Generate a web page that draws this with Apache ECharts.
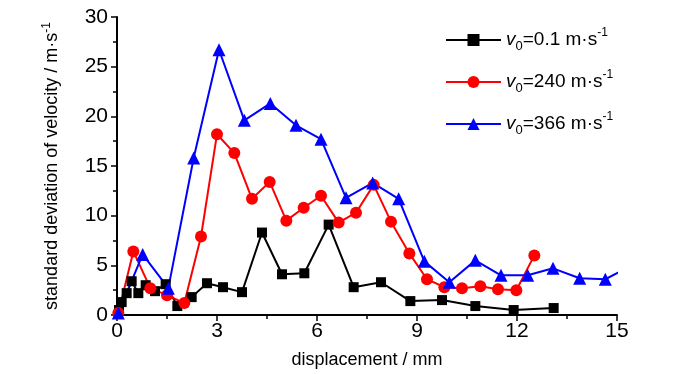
<!DOCTYPE html>
<html><head><meta charset="utf-8">
<script src="https://cdn.jsdelivr.net/npm/echarts@6/dist/echarts.min.js"></script>
<style>html,body{margin:0;padding:0;background:#fff}#c{width:700px;height:374px}</style>
</head><body><div id="c"></div>
<script>
const seriesNames = ['v0=0.1', 'v0=240', 'v0=366'];
const legendValues = ['0.1', '240', '366'];
const black = [[0.06,0.5],[0.14,1.3],[0.29,2.2],[0.44,3.4],[0.64,2.2],[0.86,3.0],[1.14,2.4],[1.46,3.1],[1.81,0.9],[2.24,1.8],[2.7,3.2],[3.18,2.8],[3.75,2.3],[4.35,8.3],[4.95,4.1],[5.62,4.2],[6.35,9.1],[7.1,2.8],[7.92,3.3],[8.8,1.4],[9.75,1.5],[10.75,0.9],[11.9,0.5],[13.1,0.7]];
const red = [[0.04,0.2],[0.49,6.4],[1.0,2.7],[1.5,2.0],[2.02,1.2],[2.52,7.9],[3.0,18.2],[3.52,16.3],[4.05,11.7],[4.58,13.4],[5.08,9.5],[5.6,10.8],[6.12,12.0],[6.65,9.3],[7.17,10.3],[7.7,13.1],[8.22,9.4],[8.77,6.2],[9.3,3.6],[9.82,2.8],[10.35,2.7],[10.9,2.9],[11.43,2.6],[11.98,2.5],[12.52,6.0]];
const blue = [[0.04,0.2],[0.77,6.1],[1.54,2.7],[2.3,15.8],[3.06,26.7],[3.82,19.6],[4.6,21.3],[5.37,19.1],[6.12,17.7],[6.87,11.8],[7.67,13.3],[8.45,11.7],[9.22,5.4],[9.97,3.3],[10.75,5.5],[11.52,4.0],[12.32,4.0],[13.08,4.7],[13.88,3.7],[14.65,3.6],[15.45,5.0]];
const xTicks = {min:0, max:15, interval:3};
const yTicks = {min:0, max:30, interval:5};

const FONT = '"Liberation Sans",Arial,sans-serif';
const chart = echarts.init(document.getElementById('c'), null, {renderer:'canvas'});
const mk = (name, data, color, symbol, size) => ({
  name, type:'line', data, symbol, symbolSize:size, showSymbol:true,
  lineStyle:{color, width:2}, itemStyle:{color}, clip:true, z:2
});
chart.setOption({
  animation:false,
  backgroundColor:'#fff',
  grid:{left:117, right:83, top:17, bottom:58, containLabel:false},
  legend:{
    orient:'vertical', left:445, top:27, padding:0, itemWidth:55, itemHeight:15, itemGap:16,
    data:seriesNames,
    formatter:function(name){
      const i = seriesNames.indexOf(name);
      return '{v|v}{s|0}{t|=' + legendValues[i] + ' m·s}{p|-1}';
    },
    textStyle:{
      fontFamily:FONT, color:'#000', fontSize:19,
      rich:{
        v:{fontFamily:FONT, fontSize:19, fontStyle:'italic', color:'#000', lineHeight:26, verticalAlign:'middle'},
        s:{fontFamily:FONT, fontSize:13, color:'#000', verticalAlign:'bottom', lineHeight:26, padding:[10,0,0,0]},
        t:{fontFamily:FONT, fontSize:19, color:'#000', lineHeight:26, verticalAlign:'middle'},
        p:{fontFamily:FONT, fontSize:12, color:'#000', verticalAlign:'top', lineHeight:26, padding:[0,0,12,0]}
      }
    }
  },
  xAxis:{
    type:'value', min:xTicks.min, max:xTicks.max, interval:xTicks.interval,
    name:'displacement / mm', nameLocation:'middle', nameGap:36,
    nameTextStyle:{fontFamily:FONT, fontSize:18, color:'#000'},
    axisLine:{show:true, onZero:false, lineStyle:{color:'#000', width:2}},
    axisTick:{show:true, inside:false, length:6, lineStyle:{color:'#000', width:1.5}},
    minorTick:{show:true, splitNumber:2, length:4, lineStyle:{color:'#000', width:1.5}},
    axisLabel:{fontFamily:FONT, fontSize:21, color:'#000', margin:6},
    splitLine:{show:false}
  },
  yAxis:{
    type:'value', min:yTicks.min, max:yTicks.max, interval:yTicks.interval,
    name:'standard deviation of velocity / m·s{p|-1}', nameLocation:'middle', nameGap:53,
    nameTextStyle:{fontFamily:FONT, fontSize:18, color:'#000',
      rich:{p:{fontFamily:FONT, fontSize:12, color:'#000', verticalAlign:'top', padding:[0,0,11,0]}}},
    axisLine:{show:true, onZero:false, lineStyle:{color:'#000', width:2}},
    axisTick:{show:true, inside:false, length:6, lineStyle:{color:'#000', width:1.5}},
    minorTick:{show:true, splitNumber:2, length:4, lineStyle:{color:'#000', width:1.5}},
    axisLabel:{fontFamily:FONT, fontSize:21, color:'#000', margin:9},
    splitLine:{show:false}
  },
  series:[
    mk(seriesNames[0], black, '#000000', 'rect', 10),
    mk(seriesNames[1], red, '#ff0000', 'circle', 12),
    mk(seriesNames[2], blue, '#0000ff', 'triangle', 13)
  ]
});
</script></body></html>
